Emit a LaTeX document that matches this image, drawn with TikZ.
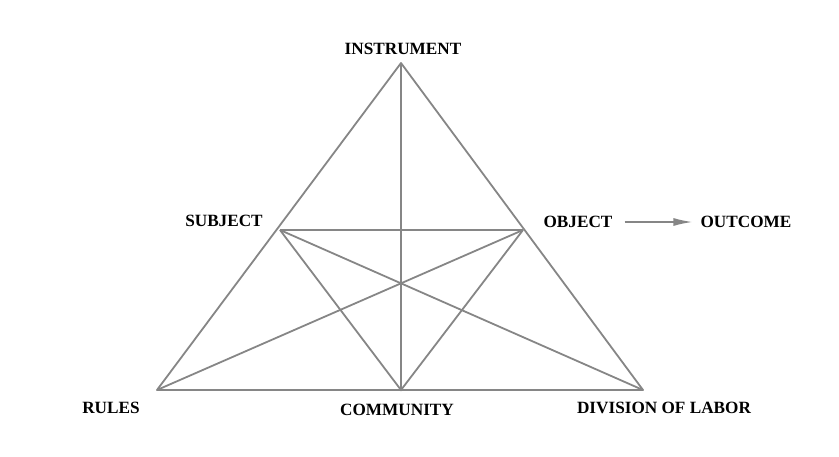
\documentclass[tikz,border=0pt]{standalone}
\usepackage{fontspec}
\setmainfont{Liberation Serif}
\usetikzlibrary{arrows.meta}

\begin{document}
\begin{tikzpicture}[x=1pt, y=-1pt,
  edge/.style={draw=gray!95, line width=1.8pt},
  label/.style={font=\fontsize{17.2}{19}\selectfont\bfseries, inner sep=0pt}]
  \useasboundingbox (0,0) rectangle (839,456);

  % corners of the triangle
  \coordinate (instr) at (401,63);
  \coordinate (subj)  at (280,230);
  \coordinate (obj)   at (523,230);
  \coordinate (rules) at (157,390);
  \coordinate (comm)  at (401,390);
  \coordinate (div)   at (643,390);

  % outer triangle
  \draw[edge, line join=round] (instr) -- (rules) -- (div) -- cycle;
  % inner lines
  \draw[edge] (instr) -- (comm);
  \draw[edge] (subj) -- (obj);
  \draw[edge] (subj) -- (comm) -- (obj);
  \draw[edge] (subj) -- (div);
  \draw[edge] (obj) -- (rules);

  % labels
  \node[label] (instrlbl) at (403,49)  {INSTRUMENT};
  \node[label] (subjlbl)  at (224,221) {SUBJECT};
  \node[label] (objlbl)   at (578,222) {OBJECT};
  \node[label] (outlbl)   at (746,222) {OUTCOME};
  \node[label] (ruleslbl) at (111,408) {RULES};
  \node[label] (commlbl)  at (397,410) {COMMUNITY};
  \node[label] (divlbl)   at (664,408) {DIVISION OF LABOR};

  \draw[gray!95, line width=1.5pt, -{Latex[length=19pt, width=8pt]},
        shorten <=12pt, shorten >=8pt] (objlbl.east) -- (outlbl.west);
\end{tikzpicture}
\end{document}
